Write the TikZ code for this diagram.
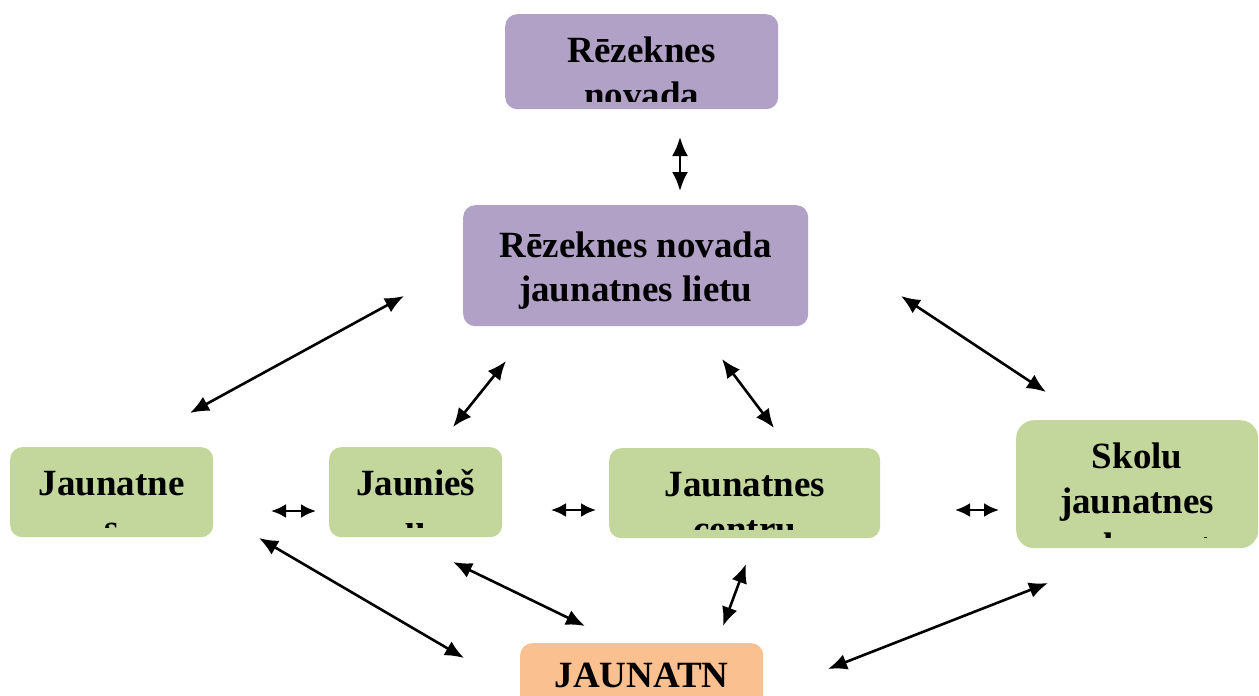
\documentclass[tikz,border=0pt]{standalone}
\usepackage{fontspec}
\setmainfont{Liberation Serif}
\usepackage{tikz}
\usetikzlibrary{arrows.meta}
\definecolor{boxpurple}{HTML}{B2A1C7}
\definecolor{boxgreen}{HTML}{C3D69B}
\definecolor{boxorange}{HTML}{FAC090}
\tikzset{>={Latex[length=19pt,width=16pt]}}
\tikzset{
  box/.style={rounded corners=12pt, inner sep=0pt, anchor=north west},
  lbl/.style={font=\bfseries\fontsize{37}{45}\selectfont, anchor=base, inner sep=0pt},
  link/.style={<->, line width=2.6pt},
  shortlink/.style={{Latex[length=15pt,width=14pt]}-{Latex[length=15pt,width=14pt]}, line width=2.6pt},
}

\begin{document}
\begin{tikzpicture}[x=1pt,y=-1pt]
      \clip (0,0) rectangle (1259,696);
      % boxes
      \node[box,fill=boxpurple,minimum width=273pt,minimum height=95pt] (rn) at (505,14) {};
      \node[box,fill=boxpurple,minimum width=345pt,minimum height=121pt] (jl) at (463,205) {};
      \node[box,fill=boxgreen,minimum width=203pt,minimum height=90pt] (jo) at (10,447) {};
      \node[box,fill=boxgreen,minimum width=173pt,minimum height=90pt] (jd) at (329,447) {};
      \node[box,fill=boxgreen,minimum width=271pt,minimum height=90pt] (jc) at (609,448) {};
      \node[box,fill=boxgreen,rounded corners=18pt,minimum width=242pt,minimum height=128pt] (sj) at (1016,420) {};
      \node[box,fill=boxorange,minimum width=243pt,minimum height=80pt] (ja) at (520,643) {};
      % texts, cut off at the box bottom
      \begin{scope}
        \clip (rn.north west) rectangle ([yshift=8pt]rn.south east);
        \node[lbl] (rn-1) at ([yshift=-48pt]rn.north) {Rēzeknes};
        \node[lbl] (rn-2) at ([yshift=-93pt]rn.north) {novada};
      \end{scope}
      \node[lbl] (jl-1) at ([yshift=-52pt]jl.north) {Rēzeknes novada};
      \node[lbl] (jl-2) at ([yshift=-96pt]jl.north) {jaunatnes lietu};
      \begin{scope}
        \clip (jo.north west) rectangle ([yshift=10pt]jo.south east);
        \node[lbl] (jo-1) at ([yshift=-48pt]jo.north) {Jaunatne};
        \node[lbl] (jo-2) at ([yshift=-93pt]jo.north) {s};
      \end{scope}
      \begin{scope}
        \clip (jd.north west) rectangle ([yshift=10pt]jd.south east);
        \node[lbl] (jd-1) at ([yshift=-48pt]jd.north) {Jaunieš};
        \node[lbl] (jd-2) at ([yshift=-93pt]jd.north) {u};
      \end{scope}
      \begin{scope}
        \clip (jc.north west) rectangle ([yshift=9pt]jc.south east);
        \node[lbl] (jc-1) at ([yshift=-48pt]jc.north) {Jaunatnes};
        \node[lbl] (jc-2) at ([yshift=-93pt]jc.north) {centru};
      \end{scope}
      \begin{scope}
        \clip (sj.north west) rectangle ([yshift=11pt]sj.south east);
        \node[lbl] (sj-1) at ([yshift=-48pt]sj.north) {Skolu};
        \node[lbl] (sj-2) at ([yshift=-93pt]sj.north) {jaunatnes};
        \node[lbl] (sj-3) at ([yshift=-138pt]sj.north) {parlaments};
      \end{scope}
      \node[lbl] (ja-1) at ([yshift=-44pt]ja.north) {JAUNATN};
      % arrow ends
      \coordinate (rn-a) at (680,137);
      \coordinate (rn-b) at (680,191);
      \coordinate (jo-a) at (404,296);
      \coordinate (jo-b) at (190,413);
      \coordinate (jd-a) at (506,361);
      \coordinate (jd-b) at (453,427);
      \coordinate (jc-a) at (722,359);
      \coordinate (jc-b) at (774,428);
      \coordinate (sj-a) at (901,296);
      \coordinate (sj-b) at (1046,392);
      \coordinate (h1-a) at (271,511);
      \coordinate (h1-b) at (316,511);
      \coordinate (h2-a) at (551,510);
      \coordinate (h2-b) at (596,510);
      \coordinate (h3-a) at (955,510);
      \coordinate (h3-b) at (999,510);
      \coordinate (ja-a) at (259,538);
      \coordinate (ja-b) at (464,658);
      \coordinate (ja-c) at (453,562);
      \coordinate (ja-d) at (585,626);
      \coordinate (ja-e) at (746,564);
      \coordinate (ja-f) at (723,626);
      \coordinate (ja-g) at (1048,583);
      \coordinate (ja-h) at (828,669);
      % arrows
      \draw[link] (rn-a) -- (rn-b);
      \draw[link] (jo-a) -- (jo-b);
      \draw[link] (jd-a) -- (jd-b);
      \draw[link] (jc-a) -- (jc-b);
      \draw[link] (sj-a) -- (sj-b);
      \draw[shortlink] (h1-a) -- (h1-b);
      \draw[shortlink] (h2-a) -- (h2-b);
      \draw[shortlink] (h3-a) -- (h3-b);
      \draw[link] (ja-a) -- (ja-b);
      \draw[link] (ja-c) -- (ja-d);
      \draw[link] (ja-e) -- (ja-f);
      \draw[link] (ja-g) -- (ja-h);
\end{tikzpicture}
\end{document}
